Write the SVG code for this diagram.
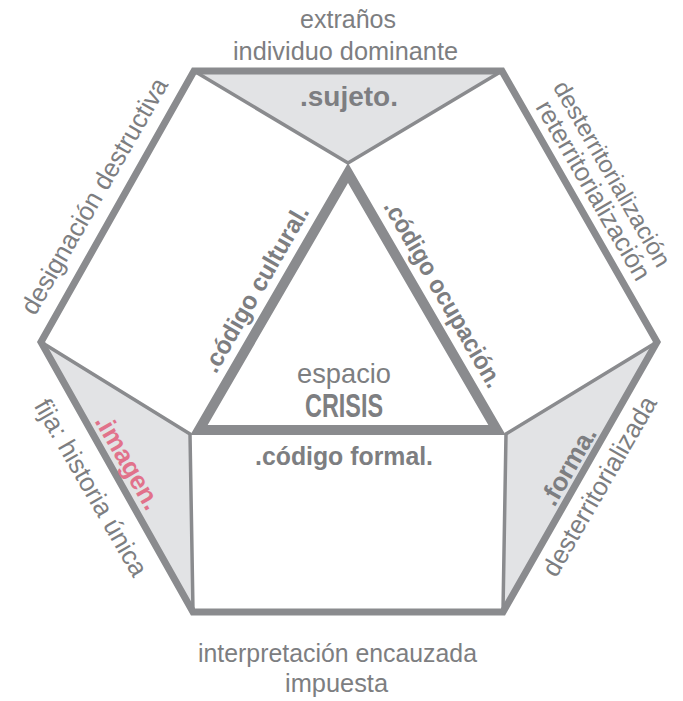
<svg xmlns="http://www.w3.org/2000/svg" width="683" height="701" viewBox="0 0 683 701">
<style>
.t{font-family:"Liberation Sans",Arial,sans-serif;fill:#7d7e81;font-size:26px;text-anchor:middle}
.b{font-weight:bold}
.thin{stroke:#8a8b8e;stroke-width:3.5;fill:none;stroke-linecap:round}
.shade{fill:#e2e3e5;stroke:none}
</style>
<rect width="683" height="701" fill="#ffffff"/>
<g id="shades">
<polygon class="shade" points="194,71 502,71 348,163"/>
<polygon class="shade" points="41,342 190,434 193,611"/>
<polygon class="shade" points="657,342 506,434 503,611"/>
</g>
<g id="connectors">
<polyline class="thin" points="194,71 348,163 502,71"/>
<polyline class="thin" points="41,342 190,434 193,611"/>
<polyline class="thin" points="657,342 506,434 503,611"/>
</g>
<g id="hexagon">
<polygon points="194,71 502,71 657,342 503,612 193,612 41,342" fill="none" stroke="#8a8b8e" stroke-width="7" stroke-linejoin="miter"/>
</g>
<g id="triangle">
<polygon points="348,173 199,430 497,430" fill="none" stroke="#8a8b8e" stroke-width="10" stroke-linejoin="miter"/>
</g>
<g id="sujeto">
<text class="t" x="348" y="28" textLength="96" lengthAdjust="spacingAndGlyphs">extraños</text>
<text class="t" x="345.5" y="60" textLength="225" lengthAdjust="spacingAndGlyphs">individuo dominante</text>
<text class="t b" x="349" y="106" style="font-size:28px" textLength="98" lengthAdjust="spacingAndGlyphs">.sujeto.</text>
</g>
<g id="centro">
<text class="t" x="344" y="383" style="font-size:28px" textLength="94" lengthAdjust="spacingAndGlyphs">espacio</text>
<text class="t b" x="344" y="417" style="font-size:33px" textLength="78" lengthAdjust="spacingAndGlyphs">CRISIS</text>
</g>
<g id="formal">
<text class="t b" x="344" y="465" style="font-size:25px" textLength="178" lengthAdjust="spacingAndGlyphs">.código formal.</text>
<text class="t" x="337.5" y="662" textLength="279" lengthAdjust="spacingAndGlyphs">interpretación encauzada</text>
<text class="t" x="336.5" y="692" textLength="103" lengthAdjust="spacingAndGlyphs">impuesta</text>
</g>
<g id="designacion">
<text class="t" transform="translate(102,200.5) rotate(-60)" textLength="268" lengthAdjust="spacingAndGlyphs">designación destructiva</text>
</g>
<g id="territorializacion">
<text class="t" transform="translate(605,178) rotate(60)" style="font-size:24px" textLength="210" lengthAdjust="spacingAndGlyphs">desterritorialización</text>
<text class="t" transform="translate(585.8,194.8) rotate(60)" textLength="203" lengthAdjust="spacingAndGlyphs">reterritorialización</text>
</g>
<g id="imagen">
<text class="t" transform="translate(83.4,492) rotate(60)" textLength="200" lengthAdjust="spacingAndGlyphs">fija: historia única</text>
<text class="t b" transform="translate(120.5,466.5) rotate(60)" style="fill:#e1728b" textLength="105" lengthAdjust="spacingAndGlyphs">.imagen.</text>
</g>
<g id="forma">
<text class="t b" transform="translate(576,470.5) rotate(-60)" textLength="86" lengthAdjust="spacingAndGlyphs">.forma.</text>
<text class="t" transform="translate(607,490.5) rotate(-60)" textLength="203" lengthAdjust="spacingAndGlyphs">desterritorializada</text>
</g>
<g id="codigos">
<text class="t b" transform="translate(263,293) rotate(-60)" style="font-size:25px" textLength="188" lengthAdjust="spacingAndGlyphs">.código cultural.</text>
<text class="t b" transform="translate(436,298) rotate(60)" style="font-size:25px" textLength="212" lengthAdjust="spacingAndGlyphs">.código ocupación.</text>
</g>
</svg>
